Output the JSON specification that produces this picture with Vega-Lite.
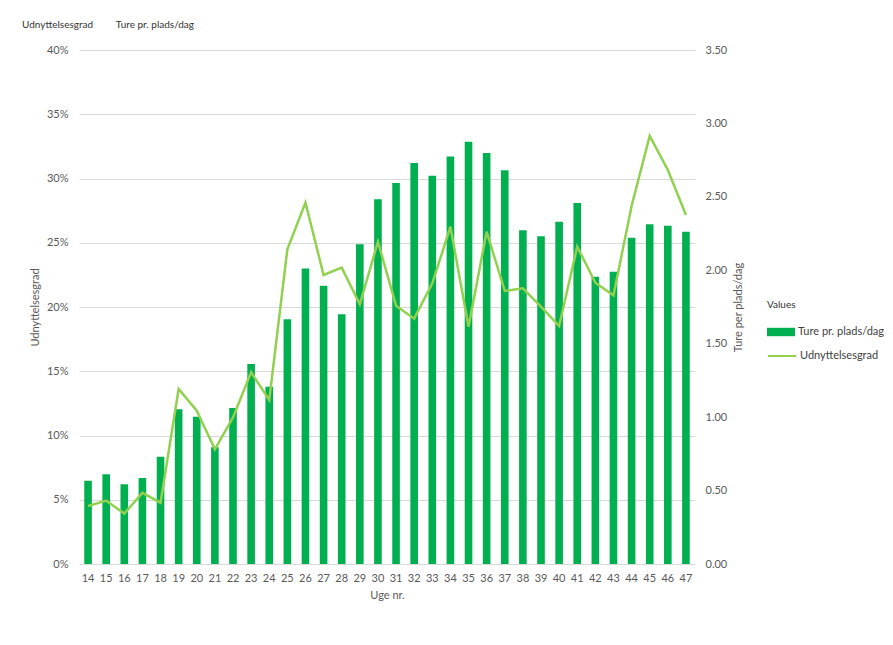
{
  "$schema": "https://vega.github.io/schema/vega-lite/v6.json",
  "width": 616,
  "height": 514,
  "autosize": {"type": "none"},
  "padding": {"left": 79, "top": 50, "right": 198, "bottom": 81},
  "background": "white",
  "title": {
    "text": "Udnyttelsesgrad\u00a0\u00a0\u00a0\u00a0\u00a0\u00a0\u00a0\u00a0\u00a0Ture pr. plads/dag",
    "anchor": "start",
    "frame": "group",
    "dx": -57,
    "offset": 14,
    "fontSize": 10,
    "fontWeight": "normal",
    "font": "Lato",
    "color": "#333333"
  },
  "config": {
    "font": "Lato",
    "view": {"stroke": null},
    "axis": {
      "labelFont": "Lato",
      "titleFont": "Lato",
      "labelColor": "#595959",
      "titleColor": "#595959",
      "labelFontSize": 11,
      "titleFontSize": 11,
      "titleFontWeight": "normal",
      "ticks": false,
      "domain": false,
      "gridColor": "#d9d9d9"
    },
    "legend": {
      "labelFont": "Lato",
      "titleFont": "Lato",
      "labelFontSize": 11,
      "labelColor": "#404040",
      "titleFontSize": 10,
      "titleFontWeight": "normal",
      "titleColor": "#333333"
    }
  },
  "data": {
    "values": [
      {"Uge": 14, "Ture": 0.567, "Udn": 0.0451},
      {"Uge": 15, "Ture": 0.611, "Udn": 0.0493},
      {"Uge": 16, "Ture": 0.543, "Udn": 0.0392},
      {"Uge": 17, "Ture": 0.586, "Udn": 0.0553},
      {"Uge": 18, "Ture": 0.731, "Udn": 0.0477},
      {"Uge": 19, "Ture": 1.053, "Udn": 0.1362},
      {"Uge": 20, "Ture": 1.003, "Udn": 0.1193},
      {"Uge": 21, "Ture": 0.795, "Udn": 0.0892},
      {"Uge": 22, "Ture": 1.062, "Udn": 0.1141},
      {"Uge": 23, "Ture": 1.362, "Udn": 0.1492},
      {"Uge": 24, "Ture": 1.207, "Udn": 0.1276},
      {"Uge": 25, "Ture": 1.666, "Udn": 0.2449},
      {"Uge": 26, "Ture": 2.013, "Udn": 0.2812},
      {"Uge": 27, "Ture": 1.895, "Udn": 0.2249},
      {"Uge": 28, "Ture": 1.700, "Udn": 0.2306},
      {"Uge": 29, "Ture": 2.177, "Udn": 0.2021},
      {"Uge": 30, "Ture": 2.483, "Udn": 0.2508},
      {"Uge": 31, "Ture": 2.594, "Udn": 0.2010},
      {"Uge": 32, "Ture": 2.731, "Udn": 0.1909},
      {"Uge": 33, "Ture": 2.644, "Udn": 0.2184},
      {"Uge": 34, "Ture": 2.774, "Udn": 0.2625},
      {"Uge": 35, "Ture": 2.876, "Udn": 0.1847},
      {"Uge": 36, "Ture": 2.799, "Udn": 0.2586},
      {"Uge": 37, "Ture": 2.681, "Udn": 0.2125},
      {"Uge": 38, "Ture": 2.272, "Udn": 0.2145},
      {"Uge": 39, "Ture": 2.231, "Udn": 0.2003},
      {"Uge": 40, "Ture": 2.331, "Udn": 0.1852},
      {"Uge": 41, "Ture": 2.458, "Udn": 0.2470},
      {"Uge": 42, "Ture": 1.956, "Udn": 0.2189},
      {"Uge": 43, "Ture": 1.990, "Udn": 0.2091},
      {"Uge": 44, "Ture": 2.222, "Udn": 0.2786},
      {"Uge": 45, "Ture": 2.313, "Udn": 0.3331},
      {"Uge": 46, "Ture": 2.304, "Udn": 0.3066},
      {"Uge": 47, "Ture": 2.263, "Udn": 0.2716}
    ]
  },
  "encoding": {
    "x": {
      "field": "Uge",
      "type": "ordinal",
      "scale": {"paddingInner": 0.58, "paddingOuter": 0.29},
      "axis": {"labelAngle": 0, "title": "Uge nr.", "labelPadding": 8, "titlePadding": 6, "grid": false}
    }
  },
  "layer": [
    {
      "mark": {"type": "bar"},
      "encoding": {
        "y": {
          "field": "Ture",
          "type": "quantitative",
          "scale": {"domain": [0, 3.5]},
          "axis": {
            "orient": "right",
            "title": "Ture per plads/dag",
            "titleAngle": 270,
            "values": [0, 0.5, 1, 1.5, 2, 2.5, 3, 3.5],
            "format": ".2f",
            "grid": false,
            "labelPadding": 10,
            "titlePadding": 17
          }
        },
        "fill": {
          "datum": "Ture pr. plads/dag",
          "scale": {"range": ["#00b050"]},
          "legend": {
            "title": "Values",
            "orient": "none",
            "legendX": 688,
            "legendY": 250,
            "symbolType": "M-1,-0.3H1V0.3H-1Z",
            "symbolSize": 784,
            "symbolStrokeWidth": 0,
            "labelOffset": 3,
            "titlePadding": 8
          }
        }
      }
    },
    {
      "mark": {"type": "line", "strokeWidth": 2.5},
      "encoding": {
        "y": {
          "field": "Udn",
          "type": "quantitative",
          "scale": {"domain": [0, 0.4]},
          "axis": {
            "orient": "left",
            "title": "Udnyttelsesgrad",
            "values": [0, 0.05, 0.1, 0.15, 0.2, 0.25, 0.3, 0.35, 0.4],
            "format": ".0%",
            "grid": true,
            "labelPadding": 11,
            "titlePadding": 6
          }
        },
        "stroke": {
          "datum": "Udnyttelsesgrad",
          "scale": {"range": ["#92d050"]},
          "legend": {
            "title": null,
            "orient": "none",
            "legendX": 688,
            "legendY": 291,
            "symbolType": "stroke",
            "symbolSize": 784,
            "symbolStrokeWidth": 2,
            "labelOffset": 3
          }
        }
      }
    }
  ],
  "resolve": {"scale": {"y": "independent"}}
}
